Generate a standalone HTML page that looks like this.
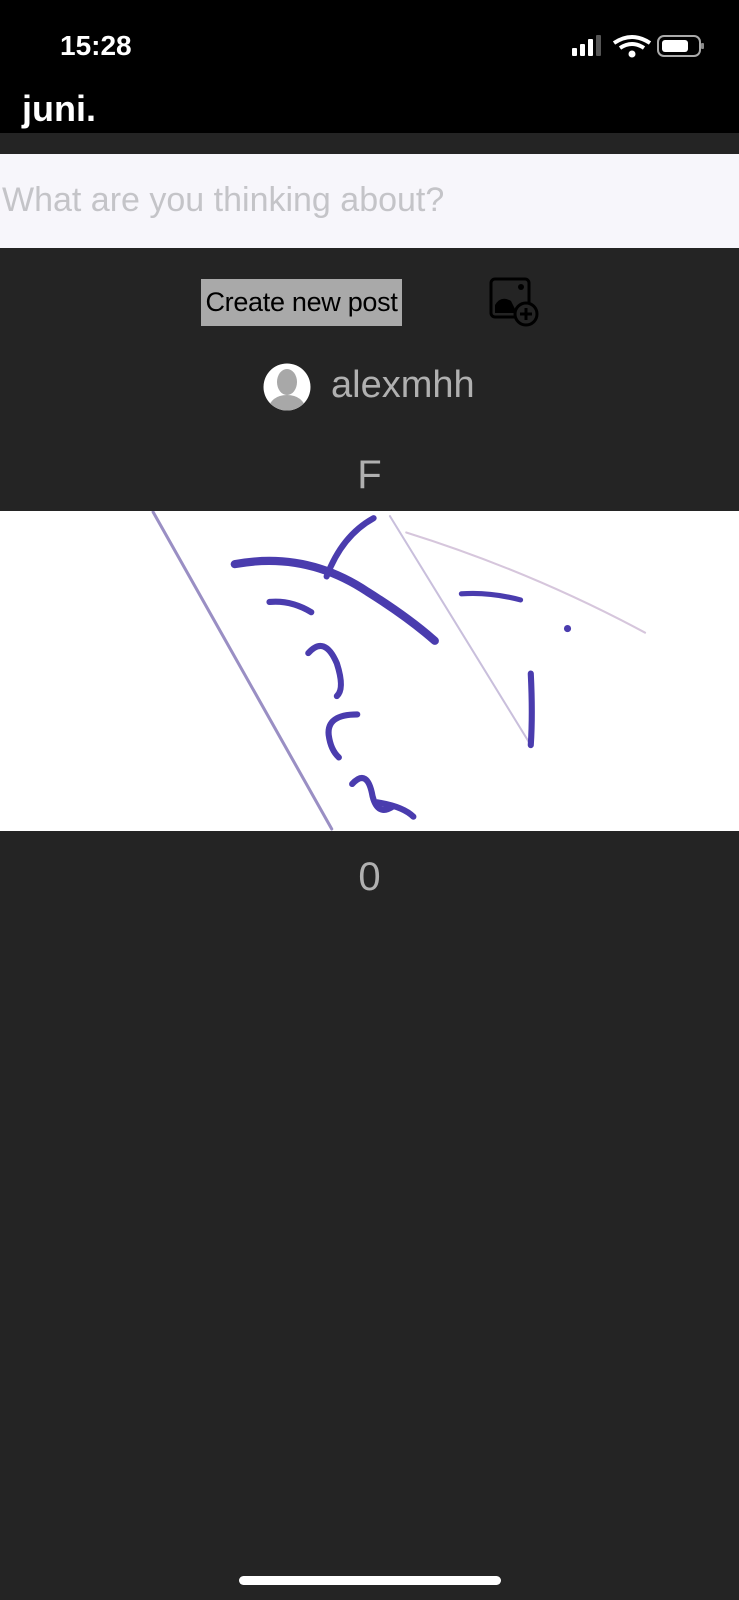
<!DOCTYPE html>
<html><head><meta charset="utf-8">
<style>
html,body{margin:0;padding:0;}
body{width:739px;height:1600px;background:#242424;position:relative;overflow:hidden;font-family:"Liberation Sans",sans-serif;}
.abs{position:absolute;}
</style></head><body>
<div class="abs" style="left:0;top:0;width:739px;height:133px;background:#000;"></div>
<div class="abs" style="left:60px;top:30px;color:#fff;font-size:28px;font-weight:bold;">15:28</div>
<svg class="abs" style="left:570px;top:34px" width="135" height="28" viewBox="0 0 135 28">
 <rect x="2" y="14" width="5" height="8" rx="1" fill="#fff"/><rect x="10" y="10" width="5" height="12" rx="1" fill="#fff"/><rect x="18" y="5" width="5" height="17" rx="1" fill="#fff"/><rect x="26" y="1" width="5" height="21" rx="1" fill="#555"/>
 <path d="M44 9 Q62 -3 80 9" stroke="#fff" stroke-width="4" fill="none"/><path d="M50 14 Q62 6 74 14" stroke="#fff" stroke-width="4" fill="none"/><circle cx="62" cy="20" r="3.5" fill="#fff"/>
 <rect x="88" y="2" width="42" height="20" rx="6" fill="none" stroke="#aaa" stroke-width="2"/><rect x="92" y="6" width="26" height="12" rx="3" fill="#fff"/><rect x="131" y="9" width="3" height="6" rx="1" fill="#888"/>
</svg>
<div class="abs" style="left:22px;top:88px;color:#fff;font-size:36px;font-weight:bold;">juni.</div>
<div class="abs" style="left:0;top:154px;width:739px;height:94px;background:#f7f6fb;"></div>
<div class="abs" style="left:2px;top:181px;color:#c4c4c8;font-size:34px;">What are you thinking about?</div>
<div class="abs" style="left:201px;top:279px;width:201px;height:47px;background:#a9a9a9;color:#000;font-size:27px;line-height:47px;text-align:center;white-space:nowrap;letter-spacing:-0.3px;">Create new post</div>
<svg class="abs" style="left:489px;top:277px" width="50" height="50" viewBox="0 0 50 50">
 <rect x="2" y="2" width="38" height="38" rx="4" fill="none" stroke="#000" stroke-width="3"/>
 <path d="M6 36 L6 28 Q12 18 22 24 L28 36 Z" fill="#000"/><circle cx="32" cy="10" r="3" fill="#000"/>
 <circle cx="37" cy="37" r="11" fill="#242424" stroke="#000" stroke-width="3"/><path d="M37 31 V43 M31 37 H43" stroke="#000" stroke-width="3"/>
</svg>
<svg class="abs" style="left:263px;top:363px" width="48" height="48" viewBox="0 0 48 48">
 <defs><clipPath id="c"><circle cx="24" cy="24" r="23.5"/></clipPath></defs>
 <circle cx="24" cy="24" r="23.5" fill="#fff"/>
 <g clip-path="url(#c)" fill="#a8a8a8"><ellipse cx="24" cy="19" rx="10" ry="13"/><path d="M4 48 Q8 32 24 32 Q40 32 44 48 Z"/></g>
</svg>
<div class="abs" style="left:331px;top:364px;color:#b0b0b0;font-size:38px;">alexmhh</div>
<div class="abs" style="left:0;width:739px;top:453px;color:#b0b0b0;font-size:40px;text-align:center;">F</div>
<svg class="abs" style="left:0;top:511px" width="739" height="320" viewBox="0 501 724 313" preserveAspectRatio="none">
 <rect x="0" y="501" width="724" height="313" fill="#fff"/>
 <g fill="none" stroke-linecap="round">
  <path d="M150 502 L325 812" stroke="#9a8fc4" stroke-width="3"/>
  <path d="M382 506 L520 730" stroke="#c9bfdc" stroke-width="2"/>
  <path d="M398 522 Q520 560 632 620" stroke="#d6c6dc" stroke-width="2"/>
  <path d="M230 553 Q300 540 360 580 Q400 605 426 628" stroke="#4a3cae" stroke-width="8"/>
  <path d="M366 508 Q335 525 320 565" stroke="#4a3cae" stroke-width="6"/>
  <path d="M264 590 Q285 588 305 600" stroke="#4a3cae" stroke-width="6"/>
  <path d="M302 640 Q318 622 330 650 Q338 675 330 682" stroke="#4a3cae" stroke-width="6"/>
  <path d="M350 700 Q320 700 322 720 Q324 735 332 742" stroke="#4a3cae" stroke-width="6"/>
  <path d="M345 768 Q360 752 365 780 Q370 800 385 790 M370 786 Q395 790 405 800" stroke="#4a3cae" stroke-width="6"/>
  <path d="M452 582 Q480 580 510 588" stroke="#4a3cae" stroke-width="5"/>
  <path d="M520 660 Q522 700 520 730" stroke="#4a3cae" stroke-width="6"/>
  <circle cx="556" cy="616" r="3" fill="#4a3cae" stroke="#4a3cae"/>
 </g>
</svg>
<div class="abs" style="left:0;width:739px;top:855px;color:#b0b0b0;font-size:40px;text-align:center;">0</div>
<div class="abs" style="left:239px;top:1576px;width:262px;height:9px;border-radius:5px;background:#fff;"></div>
</body></html>
